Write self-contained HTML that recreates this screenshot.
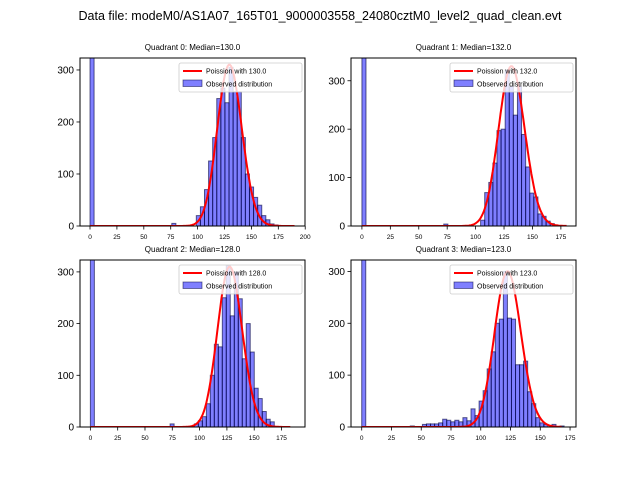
<!DOCTYPE html>
<html><head><meta charset="utf-8"><style>
body{margin:0;background:#fff}
svg{display:block;font-family:"Liberation Sans","DejaVu Sans",sans-serif}
</style></head><body>
<svg id="fig" width="640" height="480" viewBox="0 0 640 480">
<text x="320" y="20" font-size="12.5" text-anchor="middle">Data file: modeM0/AS1A07_165T01_9000003558_24080cztM0_level2_quad_clean.evt</text>
</svg>
<script>
// Quadrant 0
const q0BinStart=[0,76,98.8,102.6,106.4,110.2,114,117.8,121.6,125.4,129.2,133,136.8,140.6,144.4,148.2,152,155.8,159.6,163.4,167.2,171];
const q0Counts=[400,5,20,37,70,125,170,245,265,237,305,258,258,170,100,75,55,40,20,12,4,2];
// Quadrant 1
const q1BinStart=[0,72,104.4,108,111.6,115.2,118.8,122.4,126,129.6,133.2,136.8,140.4,144,147.6,151.2,154.8,158.4,162,165.6];
const q1Counts=[400,4,12,69,90,130,197,200,322,288,229,288,189,122,68,60,25,20,10,5];
// Quadrant 2
const q2BinStart=[0,73,95.2,98.9,102.5,106.2,109.8,113.5,117.1,120.8,124.4,128.1,131.8,135.4,139.1,142.7,146.4,150,153.7,157.4,161,164.7];
const q2Counts=[400,6,6,12,20,45,100,160,155,250,312,215,300,248,132,200,145,75,55,30,15,10];
// Quadrant 3
const q3BinStart=[0,40.8,51,54.4,57.8,61.2,64.6,68,71.4,74.8,78.2,81.6,85,88.4,91.8,95.2,98.6,102,105.4,108.8,112.2,115.6,119,122.4,125.8,129.2,132.6,136,139.4,142.8,146.2,149.6,153,159.8,166.6];
const q3Counts=[400,2,5,6,6,6,8,15,13,10,13,10,18,12,35,22,50,70,112,145,200,208,300,210,208,120,120,127,68,45,18,8,5,5,2];
const medians=[130,132,128,123];
const curvePeaks=[310,330,310,300];
const xTicks=[[0,25,50,75,100,125,150,175,200],[0,25,50,75,100,125,150,175],[0,25,50,75,100,125,150,175],[0,25,50,75,100,125,150,175]];
const yTicks=[0,100,200,300];
const binWidths=[3.8,3.6,3.66,3.4];
const curveMax=[190,180,183,168];

const NS="http://www.w3.org/2000/svg";
const svg=document.getElementById('fig');
function mk(tag,attrs,parent){const e=document.createElementNS(NS,tag);for(const k in attrs)e.setAttribute(k,attrs[k]);(parent||svg).appendChild(e);return e;}
const panels=[
 {L:80,R:305,T:58,B:226,x0:-9.3,x1:199.8,ymax:323,bs:q0BinStart,c:q0Counts},
 {L:351,R:576,T:58,B:226,x0:-9.6,x1:188.3,ymax:347,bs:q1BinStart,c:q1Counts},
 {L:80,R:305,T:260,B:427,x0:-9.5,x1:196.5,ymax:323,bs:q2BinStart,c:q2Counts},
 {L:351,R:576,T:260,B:427,x0:-9.0,x1:180,ymax:322,bs:q3BinStart,c:q3Counts}
];
function logPois(k,l){let s=0;for(let i=2;i<=k;i++)s+=Math.log(i);return k*Math.log(l)-l-s;}
panels.forEach((p,qi)=>{
 const g=mk('g',{});
 
 
 const sx=v=>p.L+(v-p.x0)/(p.x1-p.x0)*(p.R-p.L);
 const sy=v=>p.B-Math.min(v,p.ymax*1.02)/p.ymax*(p.B-p.T);
 const cp=mk('clipPath',{id:'cp'+qi},g);
 mk('rect',{x:p.L,y:p.T,width:p.R-p.L,height:p.B-p.T},cp);
 const bars=mk('g',{'clip-path':'url(#cp'+qi+')'},g);
 p.bs.forEach((b,i)=>{
  const r=mk('rect',{x:sx(b),y:sy(p.c[i]),width:sx(b+binWidths[qi])-sx(b),height:p.B-sy(p.c[i]),fill:'rgba(0,0,255,0.5)',stroke:'rgba(0,0,60,0.6)','stroke-width':1},bars);
  
  
 });
 const lam=medians[qi];const peak=Math.exp(logPois(lam,lam));
 let d='';
 for(let k=0;k<=curveMax[qi];k++){const v=curvePeaks[qi]*Math.exp(logPois(k,lam))/peak;d+=(k?'L':'M')+sx(k).toFixed(1)+' '+sy(v).toFixed(1);}
 const cur=mk('path',{d:d,fill:'none',stroke:'#f00','stroke-width':2},bars);
 
 
 const fr=mk('rect',{x:p.L,y:p.T,width:p.R-p.L,height:p.B-p.T,fill:'none',stroke:'#000','stroke-width':1},g);
 
 
 xTicks[qi].forEach(t=>{
  const x=sx(t);
  mk('line',{x1:x,x2:x,y1:p.B,y2:p.B+3.5,stroke:'#000','stroke-width':0.8},g);
  const tx=mk('text',{x:x,y:p.B+13,'font-size':6.5,'text-anchor':'middle'},g);tx.textContent=t;
  
  
 });
 yTicks.forEach(t=>{
  const y=sy(t);
  mk('line',{x1:p.L-3.5,x2:p.L,y1:y,y2:y,stroke:'#000','stroke-width':0.8},g);
  const tx=mk('text',{x:p.L-6,y:y+3.5,'font-size':10,'text-anchor':'end'},g);tx.textContent=t;
  
  
 });
 const ti=mk('text',{x:(p.L+p.R)/2,y:p.T-8,'font-size':8,'text-anchor':'middle'},g);
 ti.textContent='Quadrant '+qi+': Median='+medians[qi].toFixed(1);
 
 
 const lg=mk('g',{},g);
 
 
 const lx=p.R-126,ly=p.T+5;
 mk('rect',{x:lx,y:ly,width:123,height:29,fill:'rgba(255,255,255,0.8)',stroke:'#ccc','stroke-width':0.8,rx:2},lg);
 mk('line',{x1:lx+4,x2:lx+23,y1:ly+8,y2:ly+8,stroke:'#f00','stroke-width':2},lg);
 const t1=mk('text',{x:lx+27,y:ly+10.5,'font-size':7},lg);t1.textContent='Poission with '+medians[qi].toFixed(1);
 
 
 mk('rect',{x:lx+4,y:ly+17,width:19,height:6.5,fill:'rgba(0,0,255,0.5)',stroke:'rgba(0,0,60,0.6)','stroke-width':0.8},lg);
 const t2=mk('text',{x:lx+27,y:ly+23.5,'font-size':7},lg);t2.textContent='Observed distribution';
 
 
});
</script>
</body></html>
